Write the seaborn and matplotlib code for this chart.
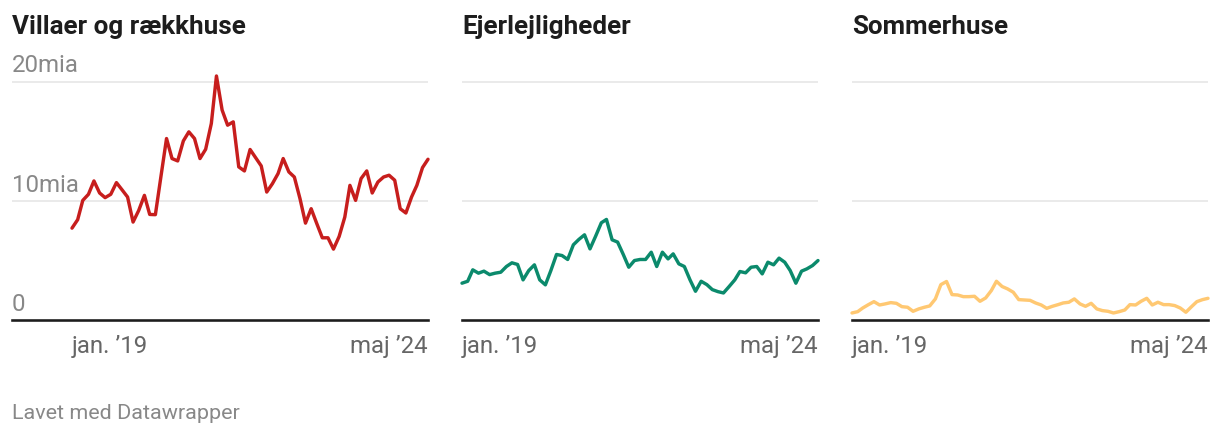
import matplotlib
matplotlib.use("Agg")
import matplotlib.pyplot as plt
import matplotlib.dates as mdates
import matplotlib.transforms as mtransforms
import seaborn as sns
import pandas as pd
import numpy as np

# ---------------- data (mia. kr per month, Jan 2019 - May 2024) ----------------
start_month = "2019-01-01"
n_months = 65
titles = ["Villaer og rækkhuse", "Ejerlejligheder", "Sommerhuse"]
colors = ["#c71e1d", "#0b8a6c", "#ffc872"]

villaer = [7.71, 8.42, 10.04, 10.55, 11.67, 10.66, 10.27, 10.55, 11.53, 10.94,
           10.32, 8.22, 9.20, 10.46, 8.86, 8.84, 12.0, 15.23, 13.55, 13.35,
           15.03, 15.79, 15.23, 13.55, 14.33, 16.49, 20.48, 17.62, 16.35, 16.63,
           12.85, 12.51, 14.31, 13.63, 12.93, 10.74, 11.44, 12.29, 13.55, 12.43,
           12.0, 10.18, 8.13, 9.34, 8.08, 6.90, 6.90, 5.95, 7.01, 8.64,
           11.30, 10.04, 11.87, 12.51, 10.66, 11.58, 12.0, 12.15, 11.73, 9.34,
           8.98, 10.32, 11.30, 12.79, 13.49]
ejerlejl = [3.09, 3.25, 4.21, 3.93, 4.10, 3.81, 3.93, 4.01, 4.49, 4.80,
            4.66, 3.37, 4.15, 4.63, 3.37, 2.95, 4.15, 5.50, 5.41, 5.08,
            6.31, 6.76, 7.15, 5.97, 7.04, 8.16, 8.44, 6.73, 6.54, 5.50,
            4.43, 4.99, 5.08, 5.08, 5.69, 4.49, 5.69, 5.13, 5.55, 4.71,
            4.49, 3.37, 2.41, 3.25, 2.97, 2.55, 2.38, 2.27, 2.81, 3.37,
            4.07, 3.96, 4.43, 4.49, 3.87, 4.85, 4.63, 5.19, 4.85, 4.15,
            3.09, 4.10, 4.29, 4.57, 4.99]
sommerhuse = [0.59, 0.70, 1.01, 1.29, 1.54, 1.26, 1.35, 1.46, 1.40, 1.12,
              1.07, 0.73, 0.93, 1.07, 1.18, 1.77, 2.97, 3.23, 2.13, 2.10,
              1.96, 1.96, 1.99, 1.57, 1.85, 2.47, 3.25, 2.81, 2.61, 2.33,
              1.71, 1.68, 1.65, 1.43, 1.26, 0.98, 1.15, 1.29, 1.43, 1.49,
              1.77, 1.35, 1.15, 1.40, 0.93, 0.79, 0.73, 0.59, 0.70, 0.84,
              1.29, 1.26, 1.57, 1.82, 1.26, 1.49, 1.29, 1.29, 1.21, 1.01,
              0.65, 1.12, 1.54, 1.71, 1.82]
series = [villaer, ejerlejl, sommerhuse]
y_ticks = [0, 10, 20]
y_tick_labels = ["0", "10mia", "20mia"]
x_tick_labels = ["jan. \u201919", "maj \u201924"]

months = pd.date_range(start_month, periods=n_months, freq="MS")

# ---------------- figure ----------------
sns.set_theme(style="white")
plt.rcParams["font.family"] = ["Roboto", "DejaVu Sans"]

W, H = 1220, 436
DPI = 100
fig = plt.figure(figsize=(W / DPI, H / DPI), dpi=DPI)
fig.patch.set_facecolor("white")

def px(v):
    return v * 72 / DPI  # px -> pt

y0_px = 320.0          # pixel row of value 0
y20_px = 81.7          # pixel row of value 20
unit = (y0_px - y20_px) / 20.0
ytop_val = 20.6
top_px = y0_px - ytop_val * unit

# panel pixel geometry: (axes left, data left, data right)
panels = [(12, 72, 428), (462, 462, 818), (852, 852, 1208)]

d0 = mdates.date2num(months[0])
d1 = mdates.date2num(months[-1])

for i, ((axl, dl, dr), vals, col, title) in enumerate(zip(panels, series, colors, titles)):
    ax = fig.add_axes([axl / W, 1 - y0_px / H, (dr - axl) / W, (y0_px - top_px) / H])
    df = pd.DataFrame({"month": months, "value": vals})
    sns.lineplot(data=df, x="month", y="value", ax=ax, color=col,
                 linewidth=px(3.4), solid_joinstyle="round", solid_capstyle="round",
                 clip_on=False, zorder=3)
    per_px = (d1 - d0) / (dr - dl)
    ax.set_xlim(d0 - (dl - axl) * per_px, d1)
    ax.set_ylim(0, ytop_val)
    for s in ["top", "right", "left"]:
        ax.spines[s].set_visible(False)
    ax.spines["bottom"].set_color("#1d1d1d")
    ax.spines["bottom"].set_linewidth(px(2.6))
    ax.spines["bottom"].set_zorder(4)
    for yv in y_ticks[1:]:
        ax.axhline(yv, color="#e5e5e5", linewidth=px(1.6), zorder=1)
    ax.set_yticks([])
    ax.set_xlabel("")
    ax.set_ylabel("")
    ax.set_xticks([d0, d1])
    ax.set_xticklabels(x_tick_labels)
    ax.tick_params(axis="x", length=0, pad=px(15), labelsize=px(24), labelcolor="#666666")
    lbls = ax.get_xticklabels()
    lbls[0].set_ha("left")
    lbls[1].set_ha("right")
    ax.patch.set_alpha(0)
    if i == 0:
        tr = mtransforms.blended_transform_factory(ax.transAxes, ax.transData)
        for yv, lab in zip(y_ticks, y_tick_labels):
            ax.text(0, yv + 9.3 / unit, lab, transform=tr, ha="left", va="baseline",
                    fontsize=px(24), color="#888888", zorder=2)
    fig.text(axl / W, 1 - 34.3 / H, title, ha="left", va="baseline",
             fontsize=px(26), fontweight="bold", color="#1d1d1d")

fig.text(12 / W, 1 - 419 / H, "Lavet med Datawrapper", ha="left", va="baseline",
         fontsize=px(21.5), color="#888888")

fig.savefig("out.png", dpi=DPI, facecolor="white")
